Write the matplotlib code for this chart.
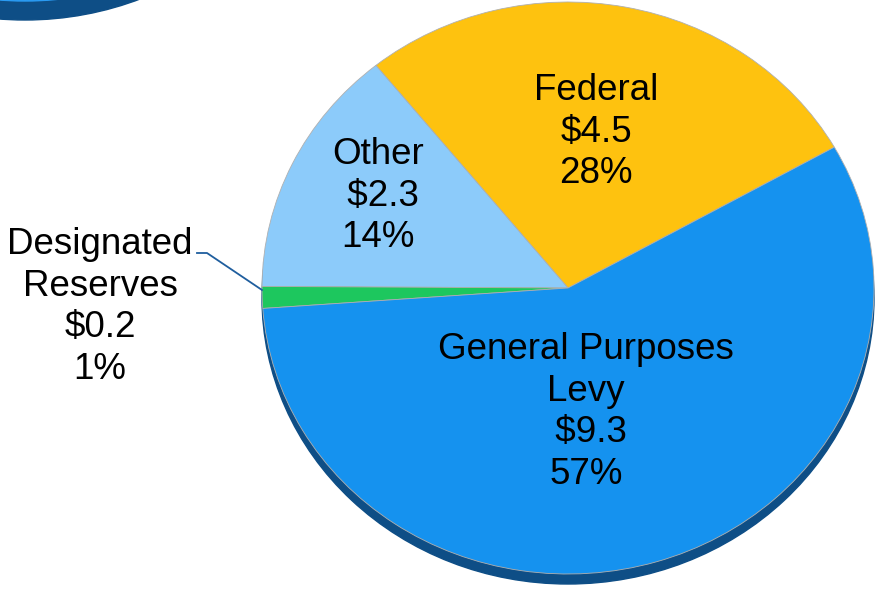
import matplotlib
matplotlib.use("Agg")
import matplotlib.pyplot as plt
from matplotlib.patches import Ellipse

# Data
categories = ["Federal", "Other", "Designated\nReserves", "General Purposes\nLevy"]
values = [4.5, 2.3, 0.2, 9.3]
value_labels = ["$4.5", " $2.3", "$0.2", " $9.3"]
pct_labels = ["28%", "14%", "1%", "57%"]
colors = ["#FEC20F", "#8CCBFA", "#1DC75E", "#1592EF"]

W, H = 875, 598
RX, RY = 306, 286
K = RX / RY

def py(y):
    return (H - y) * K

fig = plt.figure(figsize=(W / 100, H / 100), dpi=100)
ax = fig.add_axes([0, 0, 1, 1])
ax.set_xlim(0, W)
ax.set_ylim(0, H * K)
ax.axis("off")

cx, cy = 568, 288
side = "#0E4E86"

# partial second pie at top-left
ax.add_patch(Ellipse((25, py(-266)), 2 * RX, 2 * RX, color=side, zorder=1))
ax.add_patch(Ellipse((25, py(-285)), 2 * RX, 2 * RX, color="#2A9BF2", zorder=2))

# side of main pie
ax.add_patch(Ellipse((cx, py(cy + 10)), 2 * RX, 2 * RX, color=side, zorder=1))

wedges, _ = ax.pie(values, colors=colors, startangle=29.5, counterclock=True,
                   center=(cx, py(cy)), radius=RX,
                   wedgeprops=dict(linewidth=0.6, edgecolor="#b0b0b0"))
for w in wedges:
    w.set_zorder(3)
ax.set_aspect("auto")
ax.set_xlim(0, W)
ax.set_ylim(0, H * K)

font = dict(family=["Liberation Sans", "DejaVu Sans"], fontsize=26.5, color="black",
            ha="center", va="center", linespacing=1.24, parse_math=False, zorder=5)

positions = [(596, 132), (378, 196), (100, 307), (586, 412)]
for cat, v, p, (x, y) in zip(categories, value_labels, pct_labels, positions):
    ax.text(x, py(y), f"{cat}\n{v}\n{p}", **font)

# leader line for Designated Reserves
ax.plot([197, 207, 262], [py(253), py(253), py(290)], color="#1F5E9E", lw=1.3, zorder=6)

fig.savefig("out.png", dpi=100)
